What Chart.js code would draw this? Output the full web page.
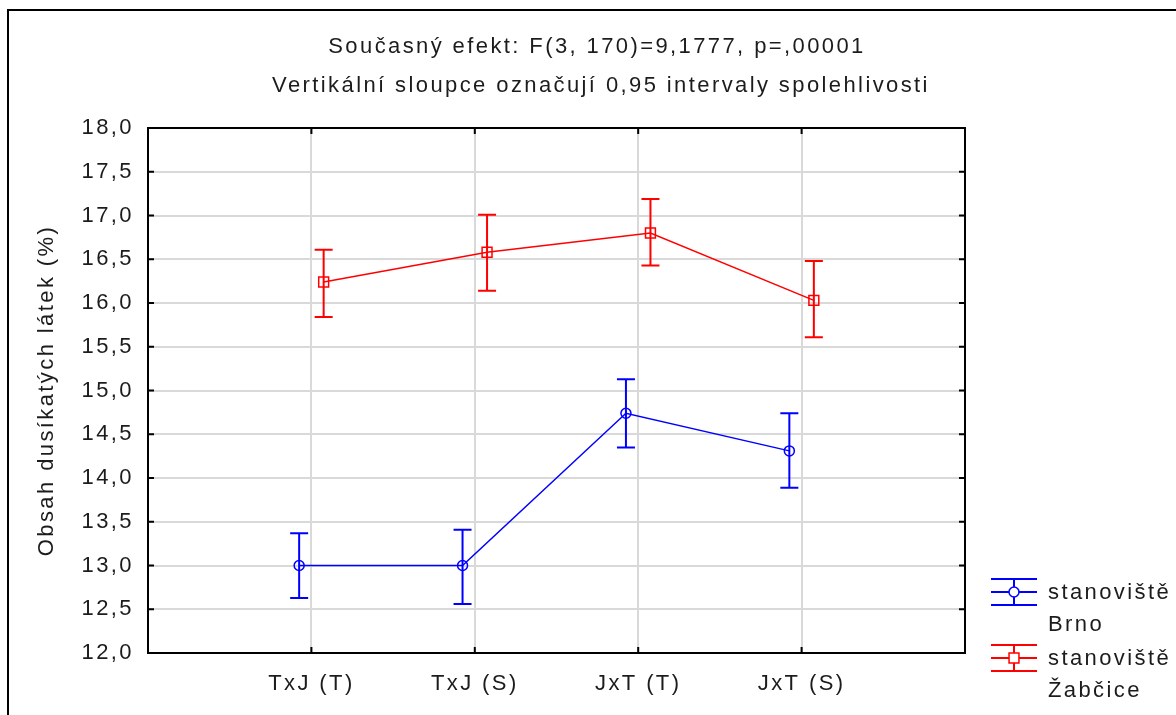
<!DOCTYPE html>
<html>
<head>
<meta charset="utf-8">
<script src="https://cdn.jsdelivr.net/npm/chart.js@4.4.1/dist/chart.umd.min.js"></script>
<style>
    html, body { margin: 0; padding: 0; background: #fff; }
    #wrap { position: relative; width: 1176px; height: 715px; }
</style>
</head>
<body>
<div id="wrap"><canvas id="effectChart"></canvas></div>
<script>
const categories = ['TxJ (T)', 'TxJ (S)', 'JxT (T)', 'JxT (S)'];
const seriesNames = ['stanoviště Brno', 'stanoviště Žabčice'];
const brnoMean = [13.00, 13.00, 14.74, 14.31];
const brnoLow = [12.63, 12.56, 14.35, 13.89];
const brnoHigh = [13.37, 13.41, 15.13, 14.74];
const zabciceMean = [16.24, 16.58, 16.80, 16.03];
const zabciceLow = [15.84, 16.14, 16.43, 15.61];
const zabciceHigh = [16.61, 17.01, 17.19, 16.48];
const yTicks = [12.0, 12.5, 13.0, 13.5, 14.0, 14.5, 15.0, 15.5, 16.0, 16.5, 17.0, 17.5, 18.0];
const titleLines = [
    'Současný efekt: F(3, 170)=9,1777, p=,00001',
    'Vertikální sloupce označují 0,95 intervaly spolehlivosti'
];
const yAxisTitle = 'Obsah dusíkatých látek (%)';

const FONT = 'Liberation Sans, Arial, sans-serif';
const TEXT = '#1c1c1c';
const BLUE = '#0000ff';
const RED = '#ff0000';
const SPACING = '2.4px';
const DODGE = 0.075; // series drawn slightly left/right of the category line

function toPoints(values, shift) {
    return values.map(function (v, i) {
        return { x: i + 1 + shift, y: v };
    });
}

const series = [
    { name: seriesNames[0], color: BLUE, style: 'circle', radius: 5, mean: brnoMean, low: brnoLow, high: brnoHigh, shift: -DODGE },
    { name: seriesNames[1], color: RED, style: 'rect', radius: 7, mean: zabciceMean, low: zabciceLow, high: zabciceHigh, shift: DODGE }
];

// keep the wide Statistica-like letter spacing on every text the chart draws
const spacingPlugin = {
    id: 'spacing',
    beforeUpdate: function (chart) { chart.ctx.letterSpacing = SPACING; },
    beforeDraw: function (chart) { chart.ctx.letterSpacing = SPACING; }
};

const errorBarPlugin = {
    id: 'errorBars',
    afterDatasetsDraw: function (chart) {
        const ctx = chart.ctx;
        const y = chart.scales.y;
        ctx.save();
        series.forEach(function (s, di) {
            const meta = chart.getDatasetMeta(di);
            ctx.strokeStyle = s.color;
            ctx.lineWidth = 2;
            meta.data.forEach(function (pt, i) {
                const top = y.getPixelForValue(s.high[i]);
                const bottom = y.getPixelForValue(s.low[i]);
                ctx.beginPath();
                ctx.moveTo(pt.x, top);
                ctx.lineTo(pt.x, bottom);
                ctx.moveTo(pt.x - 9, top);
                ctx.lineTo(pt.x + 9, top);
                ctx.moveTo(pt.x - 9, bottom);
                ctx.lineTo(pt.x + 9, bottom);
                ctx.stroke();
            });
        });
        ctx.restore();
    }
};

const decorPlugin = {
    id: 'decor',
    afterDraw: function (chart) {
        const ctx = chart.ctx;
        const a = chart.chartArea;
        const xs = chart.scales.x;
        const ys = chart.scales.y;
        ctx.save();

        // outer border of the graph window
        ctx.strokeStyle = '#000';
        ctx.lineWidth = 2;
        ctx.beginPath();
        ctx.moveTo(8, chart.height + 2);
        ctx.lineTo(8, 10);
        ctx.lineTo(chart.width + 2, 10);
        ctx.stroke();

        // plot frame with inward tick marks
        ctx.strokeRect(a.left, a.top, a.right - a.left, a.bottom - a.top);
        ctx.beginPath();
        categories.forEach(function (c, i) {
            const px = xs.getPixelForValue(i + 1);
            ctx.moveTo(px, a.bottom);
            ctx.lineTo(px, a.bottom - 6);
            ctx.moveTo(px, a.top);
            ctx.lineTo(px, a.top + 6);
        });
        yTicks.forEach(function (v) {
            const py = ys.getPixelForValue(v);
            ctx.moveTo(a.left, py);
            ctx.lineTo(a.left + 6, py);
            ctx.moveTo(a.right, py);
            ctx.lineTo(a.right - 6, py);
        });
        ctx.stroke();

        // two title lines
        ctx.fillStyle = TEXT;
        ctx.font = '22px ' + FONT;
        ctx.letterSpacing = SPACING;
        ctx.textAlign = 'center';
        ctx.textBaseline = 'middle';
        ctx.fillText(titleLines[0], 597, 47);
        ctx.fillText(titleLines[1], 601, 86);

        // legend: error-bar symbol plus two-line name
        ctx.textAlign = 'left';
        series.forEach(function (s, i) {
            const cy = 592 + i * 66;
            const x0 = 991;
            const x1 = 1037;
            const cx = (x0 + x1) / 2;
            ctx.strokeStyle = s.color;
            ctx.lineWidth = 2;
            ctx.beginPath();
            ctx.moveTo(x0, cy - 13); ctx.lineTo(x1, cy - 13);
            ctx.moveTo(x0, cy); ctx.lineTo(x1, cy);
            ctx.moveTo(x0, cy + 13); ctx.lineTo(x1, cy + 13);
            ctx.moveTo(cx, cy - 13); ctx.lineTo(cx, cy + 13);
            ctx.stroke();
            ctx.lineWidth = 1.5;
            ctx.fillStyle = '#fff';
            Chart.helpers.drawPoint(ctx, { pointStyle: s.style, radius: s.radius, borderWidth: 1.5 }, cx, cy);
            ctx.fillStyle = TEXT;
            const words = s.name.split(' ');
            ctx.fillText(words[0], 1048, cy + 1);
            ctx.fillText(words.slice(1).join(' '), 1048, cy + 33);
        });
        ctx.restore();
    }
};

new Chart(document.getElementById('effectChart'), {
    type: 'line',
    data: {
        datasets: series.map(function (s) {
            return {
                label: s.name,
                data: toPoints(s.mean, s.shift),
                borderColor: s.color,
                borderWidth: 1.5,
                pointStyle: s.style,
                pointRadius: s.radius,
                pointBorderColor: s.color,
                pointBorderWidth: 1.5,
                pointBackgroundColor: 'rgba(255,255,255,0)',
                tension: 0
            };
        })
    },
    options: {
        responsive: true,
        maintainAspectRatio: false,
        animation: false,
        layout: {
            padding: { top: 128, right: 211, bottom: 0, left: 0 }
        },
        plugins: {
            legend: { display: false },
            tooltip: { enabled: false },
            title: { display: false }
        },
        scales: {
            x: {
                type: 'linear',
                min: 0,
                max: categories.length + 1,
                afterFit: function (scale) { scale.height = 62; },
                afterBuildTicks: function (scale) {
                    scale.ticks = [0].concat(categories.map(function (c, i) { return i + 1; }), [categories.length + 1])
                        .map(function (v) { return { value: v }; });
                },
                border: { display: false },
                grid: {
                    drawTicks: false,
                    lineWidth: 2,
                    color: function (ctx) {
                        const v = ctx.tick && ctx.tick.value;
                        return (v >= 1 && v <= categories.length) ? '#d9d9d9' : 'rgba(0,0,0,0)';
                    }
                },
                ticks: {
                    autoSkip: false,
                    maxRotation: 0,
                    padding: 18,
                    color: TEXT,
                    font: { family: FONT, size: 22 },
                    callback: function (v) { return categories[v - 1] || ''; }
                }
            },
            y: {
                min: yTicks[0],
                max: yTicks[yTicks.length - 1],
                afterFit: function (scale) { scale.width = 148; },
                afterBuildTicks: function (scale) {
                    scale.ticks = yTicks.map(function (v) { return { value: v }; });
                },
                border: { display: false },
                grid: {
                    drawTicks: false,
                    lineWidth: 2,
                    color: '#d9d9d9'
                },
                ticks: {
                    padding: 14,
                    color: TEXT,
                    font: { family: FONT, size: 22 },
                    callback: function (v) { return v.toFixed(1).replace('.', ','); }
                },
                title: {
                    display: true,
                    text: yAxisTitle,
                    color: TEXT,
                    font: { family: FONT, size: 22 },
                    padding: { top: 34, bottom: 0 }
                }
            }
        }
    },
    plugins: [spacingPlugin, errorBarPlugin, decorPlugin]
});
</script>
</body>
</html>
